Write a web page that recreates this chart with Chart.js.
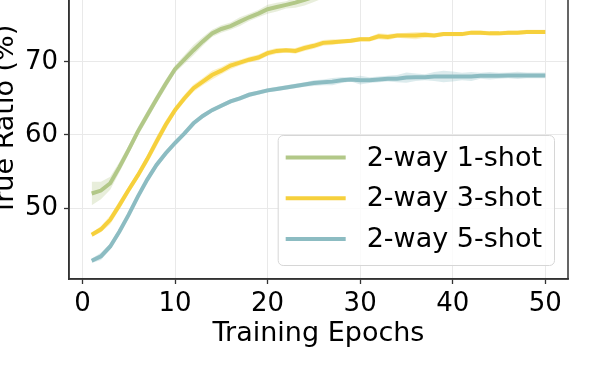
<!DOCTYPE html>
<html><head><meta charset="utf-8">
<script src="https://cdn.jsdelivr.net/npm/chart.js@4.4.1/dist/chart.umd.min.js"></script>
<style>
html,body{margin:0;padding:0;overflow:hidden;background:#fff;width:598px;height:380px;}
#wrap{position:absolute;left:-20px;top:-50px;width:618px;height:430px;}
</style></head><body>
<div id="wrap"><canvas id="c" width="618" height="430"></canvas></div>
<script>
const epochs = Array.from({length: 50}, (_, i) => i + 1);
const xTicks = [0, 10, 20, 30, 40, 50];
const yTicks = [50, 60, 70, 80];
const seriesLabels = ['2-way 1-shot', '2-way 3-shot', '2-way 5-shot'];
const oneShot = [52.0,52.4,53.4,55.6,58.0,60.5,62.7,64.9,67.0,69.0,70.3,71.6,72.8,73.9,74.5,74.9,75.5,76.1,76.6,77.2,77.5,77.8,78.1,78.5,78.9,79.3,79.6,79.9,80.1,80.3,80.5,80.7,80.9,81.0,81.1,81.2,81.3,81.4,81.5,81.5,81.6,81.6,81.7,81.7,81.8,81.8,81.8,81.9,81.9,81.9];
const threeShot = [46.35,47.1,48.4,50.4,52.5,54.5,56.7,59.1,61.4,63.4,65.0,66.4,67.3,68.2,68.8,69.5,69.9,70.3,70.6,71.2,71.5,71.6,71.5,71.9,72.2,72.6,72.7,72.8,72.9,73.1,73.1,73.5,73.4,73.6,73.6,73.6,73.7,73.6,73.8,73.8,73.8,74.0,74.0,73.9,73.9,74.0,74.0,74.1,74.1,74.1];
const fiveShot = [42.8,43.4,44.75,46.8,49.1,51.6,53.9,55.9,57.5,58.9,60.2,61.6,62.6,63.4,64.0,64.6,65.0,65.5,65.8,66.1,66.3,66.5,66.7,66.9,67.1,67.2,67.3,67.5,67.6,67.5,67.5,67.6,67.7,67.7,67.85,67.9,67.9,68.0,68.0,68.0,68.0,68.0,68.1,68.1,68.1,68.15,68.15,68.15,68.15,68.15];
const oneShotStd = [1.6,1.2,0.9,0.7,0.6,0.6,0.6,0.6,0.6,0.5,0.6,0.7,0.6,0.5,0.5,0.5,0.6,0.5,0.5,0.6,0.6,0.5,0.7,0.8,0.7,0.6,0.6,0.6,0.6,0.6,0.6,0.6,0.6,0.6,0.6,0.6,0.6,0.6,0.6,0.6,0.6,0.6,0.6,0.6,0.6,0.6,0.6,0.6,0.6,0.6];
const threeShotStd = [0.3,0.4,0.6,0.6,0.5,0.5,0.6,0.7,0.6,0.5,0.5,0.5,0.5,0.6,0.5,0.5,0.4,0.4,0.4,0.4,0.4,0.3,0.4,0.4,0.4,0.4,0.4,0.3,0.3,0.3,0.3,0.4,0.4,0.3,0.4,0.5,0.4,0.3,0.3,0.3,0.3,0.3,0.3,0.3,0.3,0.3,0.3,0.3,0.3,0.3];
const fiveShotStd = [0.3,0.5,0.4,0.4,0.4,0.4,0.4,0.4,0.4,0.4,0.3,0.3,0.3,0.3,0.3,0.3,0.3,0.3,0.3,0.3,0.3,0.3,0.3,0.3,0.4,0.4,0.5,0.4,0.3,0.6,0.4,0.4,0.4,0.5,0.7,0.5,0.4,0.6,0.8,0.7,0.5,0.6,0.4,0.5,0.4,0.4,0.5,0.4,0.4,0.4];

const colors = ['#b2c888', '#f6d03c', '#8cbcc2'];
const bandColors = ['rgba(178,200,136,0.3)', 'rgba(246,208,60,0.3)', 'rgba(140,188,194,0.3)'];
const means = [oneShot, threeShot, fiveShot];
const stds = [oneShotStd, threeShotStd, fiveShotStd];

const FONT = 'DejaVu Sans';
const datasets = [];
means.forEach((m, k) => {
  datasets.push({label: seriesLabels[k], data: epochs.map((e, i) => ({x: e, y: m[i]})),
    borderColor: colors[k], borderWidth: 4, pointRadius: 0, fill: false, order: 0, tension: 0});
});
means.forEach((m, k) => {
  datasets.push({label: '_lo' + k, data: epochs.map((e, i) => ({x: e, y: m[i] - stds[k][i]})),
    borderWidth: 0, pointRadius: 0, fill: false, order: 1});
  datasets.push({label: '_hi' + k, data: epochs.map((e, i) => ({x: e, y: m[i] + stds[k][i]})),
    borderWidth: 0, pointRadius: 0, fill: '-1', backgroundColor: bandColors[k], order: 1});
});

const framePlugin = {
  id: 'frame',
  afterDraw(chart) {
    const {ctx, chartArea: a} = chart;
    ctx.save();
    ctx.strokeStyle = '#333';
    ctx.lineWidth = 1.5;
    ctx.beginPath();
    ctx.moveTo(a.left, a.top); ctx.lineTo(a.left, a.bottom);
    ctx.lineTo(a.right, a.bottom); ctx.lineTo(a.right, a.top);
    ctx.stroke();
    // legend
    ctx.font = '27px "' + FONT + '"';
    let tw = 0;
    seriesLabels.forEach(t => tw = Math.max(tw, ctx.measureText(t).width));
    const right = a.right - 14, bottom = a.bottom - 14;
    const w = 8 + 60 + 21 + tw + 12, h = 130;
    const left = right - w, top = bottom - h;
    ctx.beginPath();
    ctx.roundRect(left + 0.5, top + 0.5, w, h, 5);
    ctx.fillStyle = 'rgba(255,255,255,0.8)';
    ctx.fill();
    ctx.strokeStyle = '#d6d6d6';
    ctx.lineWidth = 1;
    ctx.stroke();
    seriesLabels.forEach((t, k) => {
      const y = top + 22.5 + k * 40.7;
      ctx.strokeStyle = colors[k];
      ctx.lineWidth = 4;
      ctx.beginPath();
      ctx.moveTo(left + 8, y); ctx.lineTo(left + 68, y);
      ctx.stroke();
      ctx.fillStyle = '#000';
      ctx.textBaseline = 'middle';
      ctx.textAlign = 'left';
      ctx.fillText(t, left + 89, y + 1);
    });
    ctx.restore();
  }
};

new Chart(document.getElementById('c'), {
  type: 'line',
  data: {datasets},
  plugins: [framePlugin],
  options: {
    responsive: false, animation: false, devicePixelRatio: 1,
    layout: {padding: {top: 11, right: 30, left: 0, bottom: 0}},
    plugins: {legend: {display: false}, tooltip: {enabled: false}},
    scales: {
      x: {
        type: 'linear', min: -1.45, max: 52.45,
        afterBuildTicks: s => { s.ticks = xTicks.map(v => ({value: v})); },
        afterFit: s => { s.height = 101; s.paddingLeft = 0; s.paddingRight = 0; },
        ticks: {font: {family: FONT, size: 26}, color: '#000', padding: 5, maxRotation: 0, autoSkip: false},
        grid: {color: '#e9e9e9', lineWidth: 1, tickColor: '#333', tickLength: 5, tickWidth: 1.3},
        border: {display: true, color: '#333', width: 1.5},
        title: {display: true, text: 'Training Epochs', font: {family: FONT, size: 27}, color: '#000', padding: {top: 0, bottom: 30}}
      },
      y: {
        type: 'linear', min: 40.3, max: 83.8,
        afterBuildTicks: s => { s.ticks = yTicks.map(v => ({value: v})); },
        afterFit: s => { s.width = 89; s.paddingTop = 0; s.paddingBottom = 0; },
        ticks: {font: {family: FONT, size: 26}, color: '#000', padding: 6},
        grid: {color: '#e9e9e9', lineWidth: 1, tickColor: '#333', tickLength: 5, tickWidth: 1.3},
        border: {display: true, color: '#333', width: 1.5},
        title: {display: true, text: 'True Ratio (%)', font: {family: FONT, size: 27}, color: '#000', padding: {top: 10, bottom: 0}}
      }
    }
  }
});
</script>
</body></html>
